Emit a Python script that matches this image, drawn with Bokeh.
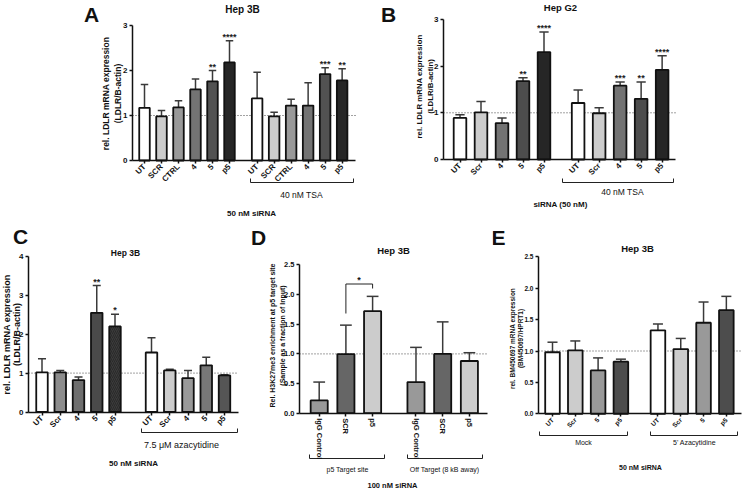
import math
from bokeh.plotting import figure
from bokeh.models import Range1d, LinearAxis, FixedTicker, Label, PrintfTickFormatter, ColumnDataSource
from bokeh.layouts import column, row
from bokeh.embed import file_html
from bokeh.resources import INLINE
from bokeh.core.properties import value

FONT = "Liberation Sans"

# ---------------- data ----------------
a_labels = ["UT", "SCR", "CTRL", "4", "5", "p5", "UT", "SCR", "CTRL", "4", "5", "p5"]
a_values = [1.17, 0.98, 1.18, 1.58, 1.76, 2.18, 1.38, 0.98, 1.22, 1.22, 1.92, 1.78]
a_sd = [0.52, 0.13, 0.15, 0.23, 0.24, 0.48, 0.58, 0.09, 0.14, 0.51, 0.14, 0.26]
a_stars = ["", "", "", "", "**", "****", "", "", "", "", "***", "**"]
a_colors = ["#ffffff", "#cccccc", "#999999", "#737373", "#525252", "#262626"] * 2

b_labels = ["UT", "Scr", "4", "5", "p5", "UT", "Scr", "4", "5", "p5"]
b_values = [0.89, 1.01, 0.78, 1.68, 2.30, 1.21, 0.99, 1.58, 1.30, 1.92]
b_sd = [0.07, 0.23, 0.11, 0.07, 0.43, 0.28, 0.12, 0.08, 0.36, 0.30]
b_stars = ["", "", "", "**", "****", "", "", "***", "**", "****"]
b_colors = ["#ffffff", "#cccccc", "#737373", "#4d4d4d", "#262626"] * 2

c_labels = ["UT", "Scr", "4", "5", "p5", "UT", "Scr", "4", "5", "p5"]
c_values = [1.02, 1.02, 0.82, 2.55, 2.20, 1.53, 1.07, 0.87, 1.20, 0.94]
c_sd = [0.35, 0.05, 0.08, 0.70, 0.31, 0.38, 0.03, 0.20, 0.21, 0.02]
c_stars = ["", "", "", "**", "*", "", "", "", "", ""]
c_colors = ["#ffffff", "#8c8c8c", "#6e6e6e", "#4a4a4a", "#3a3a3a",
            "#ffffff", "#cccccc", "#999999", "#777777", "#555555"]
c_hatch = [" ", " ", " ", " ", "/", " ", " ", " ", " ", " "]

d_labels = ["IgG Control", "SCR", "p5", "IgG Control", "SCR", "p5"]
d_values = [0.215, 0.995, 1.72, 0.525, 1.00, 0.88]
d_sd = [0.31, 0.49, 0.25, 0.585, 0.54, 0.14]
d_stars = [""] * 6
d_colors = ["#999999", "#666666", "#cccccc"] * 2

e_labels = ["UT", "Scr", "5", "p5", "UT", "Scr", "5", "p5"]
e_values = [0.98, 1.01, 0.69, 0.83, 1.33, 1.03, 1.45, 1.65]
e_sd = [0.16, 0.15, 0.20, 0.04, 0.10, 0.17, 0.33, 0.22]
e_stars = [""] * 8
e_colors = ["#ffffff", "#cccccc", "#999999", "#4d4d4d"] * 2


def make_panel(box, x0, dx, y0, ppu, yaxis_px, xend_px, ymax, yticks, yfmt,
               labels, values, sd, colors, stars, g, barw,
               xlab_fs, xlab_angle, ytick_fs, hatch=None):
    L, T, R, B = box
    X = lambda px: (px - x0) / dx
    Y = lambda py: (y0 - py) / ppu
    p = figure(width=R - L, height=B - T, x_range=Range1d(X(L), X(R)),
               y_range=Range1d(Y(B), Y(T)), x_axis_type=None, y_axis_type=None,
               toolbar_location=None, output_backend="svg", min_border=0,
               outline_line_color=None)
    n = len(labels) // 2
    pos = [float(i) for i in range(n)] + [g + i for i in range(n)]
    cw = 0.22
    p.line([X(yaxis_px), X(xend_px)], [1, 1], line_dash="1 2", line_color="#444444", line_width=1)
    src = ColumnDataSource(dict(
        x=pos, top=values, err=[v + s for v, s in zip(values, sd)], color=colors,
        star=stars, l=[x - cw for x in pos], r=[x + cw for x in pos],
        hatch=hatch if hatch else [" "] * len(pos)))
    p.segment(x0="x", y0="top", x1="x", y1="err", line_color="#3a3a3a", line_width=1.5, source=src)
    p.segment(x0="l", y0="err", x1="r", y1="err", line_color="#3a3a3a", line_width=1.5, source=src)
    p.vbar(x="x", top="top", bottom=0, width=barw, fill_color="color",
           hatch_pattern="hatch", hatch_color="#1e1e1e", hatch_scale=4, hatch_weight=0.6,
           line_color="#111111", line_width=1.8, source=src)
    p.text(x="x", y="err", text="star", text_align="center", text_baseline="bottom",
           y_offset=1, text_font=value(FONT), text_font_size="9px",
           text_font_style="bold", text_color="#222222", source=src)

    yax = LinearAxis(fixed_location=X(yaxis_px), bounds=(0, ymax),
                     ticker=FixedTicker(ticks=yticks))
    if yfmt:
        yax.formatter = PrintfTickFormatter(format=yfmt)
    xax = LinearAxis(fixed_location=0, bounds=(X(yaxis_px), X(xend_px)),
                     ticker=FixedTicker(ticks=pos),
                     major_label_overrides={x: t for x, t in zip(pos, labels)})
    xax.major_label_orientation = xlab_angle
    for ax, fs in ((yax, ytick_fs), (xax, xlab_fs)):
        ax.axis_line_color = "#111111"
        ax.axis_line_width = 1.5
        ax.major_tick_line_color = "#111111"
        ax.major_tick_line_width = 1.5
        ax.major_tick_out = 3
        ax.major_tick_in = 0
        ax.minor_tick_line_color = None
        ax.major_label_text_font = FONT
        ax.major_label_text_font_style = "bold"
        ax.major_label_text_font_size = f"{fs}px"
        ax.major_label_text_color = "#111111"
        ax.major_label_standoff = 2
    p.add_layout(yax, "left")
    p.add_layout(xax, "below")
    return p, X, Y, pos


def lab(p, X, Y, xpx, ypx, text, size, bold=True, angle=0.0):
    p.add_layout(Label(x=X(xpx), y=Y(ypx), text=text, text_font=FONT,
                       text_font_size=f"{size}px",
                       text_font_style="bold" if bold else "normal",
                       text_align="center", text_baseline="middle",
                       angle=angle, text_color="#111111"))


def bracket(p, X, Y, x1, x2, ypx, tick=4):
    p.line([X(x1), X(x1), X(x2), X(x2)], [Y(ypx - tick), Y(ypx), Y(ypx), Y(ypx - tick)],
           line_color="#222222", line_width=1)


V = math.pi / 2

# ---------------- Panel A ----------------
pA, X, Y, _ = make_panel((0, 0, 372, 222), 144, 17, 160, 45, 132, 355, 3, [0, 1, 2, 3], None,
                         a_labels, a_values, a_sd, a_colors, a_stars, 6.625, 0.62,
                         8, math.pi / 4, 8)
lab(pA, X, Y, 91, 14, "A", 21)
lab(pA, X, Y, 242, 9, "Hep 3B", 10)
lab(pA, X, Y, 105.5, 93, "rel. LDLR mRNA expression", 8.5, angle=V)
lab(pA, X, Y, 117, 93, "(LDLR/B-actin)", 8.5, angle=V)
bracket(pA, X, Y, 250, 353, 182)
lab(pA, X, Y, 301, 194, "40 nM TSA", 8.5, bold=False)
lab(pA, X, Y, 251, 213, "50 nM siRNA", 8)

# ---------------- Panel B ----------------
pB, X, Y, _ = make_panel((372, 0, 743, 222), 459.5, 21, 159, 46.7, 443, 675, 3, [0, 1, 2, 3], None,
                         b_labels, b_values, b_sd, b_colors, b_stars, 5.625, 0.6,
                         8, math.pi / 4, 8)
lab(pB, X, Y, 388, 14, "B", 21)
lab(pB, X, Y, 560, 7, "Hep G2", 9.5)
lab(pB, X, Y, 418.5, 86, "rel. LDLR mRNA expression", 7.8, angle=V)
lab(pB, X, Y, 429.5, 86, "(LDLR/B-actin)", 7.8, angle=V)
bracket(pB, X, Y, 562, 673, 182)
lab(pB, X, Y, 622, 191, "40 nM TSA", 8.5, bold=False)
lab(pB, X, Y, 560, 204, "siRNA (50 nM)", 8)

# ---------------- Panel C ----------------
pC, X, Y, _ = make_panel((0, 222, 246, 490), 41.5, 18.25, 411.5, 38.9, 28, 238, 4, [0, 1, 2, 3, 4], None,
                         c_labels, c_values, c_sd, c_colors, c_stars, 6, 0.63,
                         8, math.pi / 4, 8, hatch=c_hatch)
lab(pC, X, Y, 20, 236, "C", 21)
lab(pC, X, Y, 125, 252, "Hep 3B", 8.5)
lab(pC, X, Y, 6.5, 334, "rel. LDLR mRNA expression", 9, angle=V)
lab(pC, X, Y, 16.5, 334, "(LDLR/B-actin)", 9, angle=V)
bracket(pC, X, Y, 141, 237, 432)
lab(pC, X, Y, 181, 444, "7.5 \u03bcM azacytidine", 9, bold=False)
lab(pC, X, Y, 133, 463, "50 nM siRNA", 8)

# ---------------- Panel D ----------------
pD, X, Y, dpos = make_panel((246, 222, 492, 490), 318.7, 26.7, 412.7, 59.3, 299, 487, 2.5,
                            [0, 0.5, 1, 1.5, 2, 2.5], "%.1f",
                            d_labels, d_values, d_sd, d_colors, d_stars, 3.625, 0.64,
                            7.5, "vertical", 7.5)
lab(pD, X, Y, 258, 237, "D", 21)
lab(pD, X, Y, 393, 250, "Hep 3B", 9.5)
lab(pD, X, Y, 272, 335, "Rel. H3K27me3 enrichment at p5 target site", 7, angle=V)
lab(pD, X, Y, 282, 335, "(Sample as a fraction of Input)", 7, angle=V)
bracket(pD, X, Y, 309, 384, 458)
bracket(pD, X, Y, 407, 482, 458)
lab(pD, X, Y, 347, 469, "p5 Target site", 7, bold=False)
lab(pD, X, Y, 444, 469, "Off Target (8 kB away)", 7, bold=False)
lab(pD, X, Y, 392, 485, "100 nM siRNA", 7.5)
# significance bracket SCR vs p5
pD.line([dpos[1], dpos[1], dpos[2], dpos[2]], [Y(313), Y(283.5), Y(283.5), Y(288)],
        line_color="#222222", line_width=1)
lab(pD, X, Y, 358.5, 279, "*", 9)

# ---------------- Panel E ----------------
pE, X, Y, _ = make_panel((492, 222, 743, 490), 552, 22.8, 413.3, 62.8, 538, 741, 2.5,
                         [0, 0.5, 1, 1.5, 2, 2.5], "%.1f",
                         e_labels, e_values, e_sd, e_colors, e_stars, 4.625, 0.64,
                         6.5, math.pi / 4, 6.5)
lab(pE, X, Y, 498, 237, "E", 21)
lab(pE, X, Y, 637, 248, "Hep 3B", 9.5)
lab(pE, X, Y, 511.5, 338, "rel. BM450697 mRNA expression", 6.5, angle=V)
lab(pE, X, Y, 520, 338, "(BM450697/HPRT1)", 6.5, angle=V)
bracket(pE, X, Y, 539, 627, 435)
bracket(pE, X, Y, 650, 737, 435)
lab(pE, X, Y, 583, 442, "Mock", 7, bold=False)
lab(pE, X, Y, 694, 442, "5' Azacytidine", 7, bold=False)
lab(pE, X, Y, 640, 467, "50 nM siRNA", 7)

layout = column(row(pA, pB), row(pC, pD, pE))
open("out.html", "w").write(file_html(layout, INLINE))
